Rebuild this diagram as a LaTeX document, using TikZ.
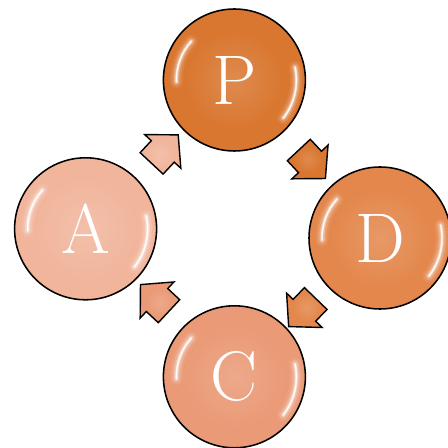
\documentclass[tikz,border=0pt]{standalone}
\usetikzlibrary{positioning, calc, shapes.arrows}
\definecolor{plancol}{HTML}{D9762F}
\definecolor{docol}{HTML}{E3874C}
\definecolor{checkcol}{HTML}{EA9A76}
\definecolor{actcol}{HTML}{F1B59C}
\colorlet{glossbase}{plancol}
\pgfdeclareradialshading[glossbase]{gloss}{\pgfpoint{0bp}{0bp}}{color(0bp)=(glossbase!85!white); color(18bp)=(glossbase); color(42bp)=(glossbase); color(50bp)=(glossbase!86!black)}

% reflets blancs sur une bulle
\newcommand{\shine}[1]{%
  \foreach \w/\o in {9pt/0.08, 6pt/0.14, 3.5pt/0.28, 1.6pt/0.6, 0.7pt/0.9}{
    \draw[white, opacity=\o, line width=\w, line cap=round] ([shift={(138:1.45cm)}]#1.center) arc (138:182:1.45cm);
    \draw[white, opacity=\o, line width=\w, line cap=round] ([shift={(12:1.55cm)}]#1.center) arc (12:-38:1.55cm);
  }}

\begin{document}
\begin{tikzpicture}[on grid,
        bubble/.style={circle, draw, line width=1.1pt, minimum size=3.55cm, inner sep=0pt, shading=gloss, text=white, font=\fontsize{50}{50}\selectfont},
        blockarrow/.style={single arrow, draw, line width=1pt, minimum height=0.975cm, inner xsep=0pt, inner ysep=0.375cm, single arrow head extend=0.225cm, single arrow tip angle=95, shading=gloss}
    ]
        \useasboundingbox (0,0) rectangle (11.2,11.2);
        \clip (0,0) rectangle (11.2,11.2);

        % Bulles du cycle
        \colorlet{glossbase}{plancol}
        \node[bubble] (P) at (5.86,9.2) {P};
        \colorlet{glossbase}{actcol}
        \node[bubble, below left=3.72cm and 3.72cm of P] (A) {A};
        \colorlet{glossbase}{docol}
        \node[bubble, below right=3.95cm and 3.64cm of P] (D) {D};
        \colorlet{glossbase}{checkcol}
        \node[bubble, below=7.42cm of P] (C) {C};
        \foreach \n in {P,A,D,C} {\shine{\n}}

        % Fleches entre les bulles
        \colorlet{glossbase}{actcol}
        \node[blockarrow, rotate=47] (AP) at ($(A)!0.5!(P)$) {};
        \colorlet{glossbase}{plancol}
        \node[blockarrow, rotate=-47] (PD) at ($(P)!0.5!(D)$) {};
        \colorlet{glossbase}{docol}
        \node[blockarrow, rotate=-134] (DC) at ($(D)!0.5!(C)$) {};
        \colorlet{glossbase}{checkcol}
        \node[blockarrow, rotate=137] (CA) at ($(C)!0.5!(A)$) {};
    \end{tikzpicture}
\end{document}
